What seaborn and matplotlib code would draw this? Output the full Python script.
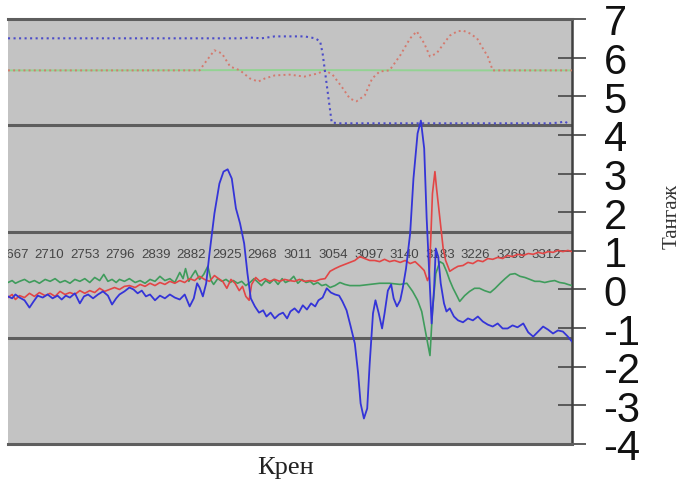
import matplotlib
matplotlib.use("Agg")
import matplotlib.pyplot as plt
import seaborn as sns
import pandas as pd

# ---------------- data ----------------
x_tick_values = [2667, 2710, 2753, 2796, 2839, 2882, 2925, 2968, 3011, 3054,
                 3097, 3140, 3183, 3226, 3269, 3312]
x_tick_labels = [str(v) for v in x_tick_values]
y_ticks = [-4, -3, -2, -1, 0, 1, 2, 3, 4, 5, 6, 7]
band_lines = [4.25, 1.5, -1.25]

blue_x = [2660, 2665, 2669, 2674, 2680, 2686, 2691, 2696, 2702, 2708, 2714, 2720, 2725, 2730,
          2735, 2741, 2747, 2752, 2757, 2763, 2769, 2775, 2781, 2786, 2791, 2795, 2801, 2807,
          2812, 2817, 2822, 2827, 2832, 2838, 2844, 2850, 2856, 2862, 2868, 2874, 2880, 2885,
          2889, 2892, 2896, 2900, 2904, 2910, 2916, 2921, 2926, 2931, 2936, 2941, 2946, 2950,
          2954, 2959, 2964, 2969, 2973, 2978, 2983, 2988, 2993, 2998, 3002, 3007, 3012, 3017,
          3022, 3027, 3032, 3036, 3041, 3046, 3051, 3056, 3061, 3065, 3070, 3075, 3080, 3084,
          3087, 3091, 3095, 3098, 3102, 3105, 3109, 3113, 3116, 3120, 3124, 3127, 3131, 3135,
          3138, 3142, 3147, 3151, 3156, 3160, 3164, 3167, 3171, 3173, 3176, 3178, 3181, 3184,
          3188, 3191, 3195, 3200, 3205, 3211, 3217, 3223, 3229, 3235, 3241, 3247, 3253, 3259,
          3265, 3271, 3277, 3284, 3290, 3296, 3302, 3308, 3314, 3320, 3326, 3332, 3338, 3343]
blue_y = [-0.18, -0.23, -0.13, -0.21, -0.28, -0.47, -0.31, -0.16, -0.21, -0.13, -0.23, -0.16, -0.26, -0.16,
          -0.21, -0.10, -0.36, -0.18, -0.13, -0.23, -0.13, -0.05, -0.16, -0.39, -0.23, -0.13, -0.05, 0.05,
          0.00, -0.10, -0.03, -0.18, -0.13, -0.28, -0.16, -0.23, -0.13, -0.21, -0.26, -0.13, -0.44, -0.23,
          0.16, 0.05, -0.18, 0.16, 0.93, 1.97, 2.74, 3.05, 3.11, 2.87, 2.10, 1.71, 1.19, 0.41,
          -0.23, -0.44, -0.60, -0.54, -0.70, -0.60, -0.75, -0.65, -0.60, -0.75, -0.57, -0.49, -0.60, -0.41,
          -0.52, -0.36, -0.44, -0.28, -0.21, 0.03, -0.08, -0.13, -0.16, -0.31, -0.54, -0.96, -1.40, -2.17,
          -2.95, -3.34, -3.08, -1.92, -0.62, -0.28, -0.62, -1.01, -0.62, -0.03, 0.13, -0.23, -0.44, -0.28,
          0.03, 0.54, 1.45, 2.87, 4.04, 4.37, 3.65, 1.84, 0.03, -0.88, 0.03, 1.06, 0.85, 0.16,
          -0.36, -0.57, -0.49, -0.70, -0.80, -0.85, -0.75, -0.80, -0.70, -0.83, -0.91, -0.96, -0.88, -1.01,
          -1.01, -0.93, -0.98, -0.88, -1.11, -1.22, -1.09, -0.96, -1.04, -1.14, -1.06, -1.09, -1.22, -1.35]

red_x = [2660, 2665, 2669, 2674, 2680, 2686, 2692, 2698, 2705, 2711, 2717, 2723, 2729, 2735,
         2741, 2747, 2753, 2759, 2765, 2771, 2777, 2783, 2789, 2795, 2801, 2807, 2814, 2820,
         2826, 2832, 2838, 2844, 2850, 2856, 2862, 2868, 2874, 2880, 2886, 2892, 2898, 2904,
         2910, 2915, 2920, 2925, 2930, 2935, 2940, 2944, 2948, 2952, 2955, 2960, 2965, 2971,
         2977, 2983, 2989, 2995, 3001, 3007, 3013, 3019, 3026, 3032, 3038, 3044, 3050, 3056,
         3062, 3068, 3074, 3080, 3086, 3092, 3098, 3104, 3110, 3116, 3122, 3128, 3135, 3141,
         3147, 3153, 3159, 3164, 3168, 3170, 3172, 3174, 3177, 3179, 3183, 3187, 3190, 3195,
         3200, 3205, 3211, 3217, 3223, 3229, 3235, 3241, 3247, 3253, 3259, 3265, 3271, 3277,
         3284, 3290, 3296, 3302, 3308, 3314, 3320, 3326, 3332, 3338, 3343]
red_y = [-0.21, -0.13, -0.26, -0.16, -0.21, -0.10, -0.18, -0.08, -0.16, -0.10, -0.18, -0.05, -0.13, -0.08,
         -0.13, -0.03, -0.10, -0.03, -0.08, 0.03, -0.05, 0.00, 0.05, 0.00, 0.08, 0.10, 0.05, 0.13,
         0.08, 0.16, 0.10, 0.18, 0.13, 0.21, 0.16, 0.23, 0.18, 0.28, 0.23, 0.34, 0.26, 0.21,
         0.36, 0.28, 0.21, 0.03, 0.26, 0.16, -0.03, 0.08, -0.18, -0.28, 0.13, 0.31, 0.21, 0.28,
         0.21, 0.26, 0.21, 0.26, 0.23, 0.21, 0.26, 0.21, 0.23, 0.21, 0.26, 0.28, 0.47, 0.54,
         0.60, 0.65, 0.70, 0.75, 0.85, 0.80, 0.75, 0.75, 0.72, 0.78, 0.72, 0.75, 0.70, 0.75,
         0.67, 0.72, 0.60, 0.49, 0.23, 0.34, 1.32, 2.48, 3.05, 2.61, 1.84, 1.06, 0.75, 0.47,
         0.54, 0.60, 0.62, 0.70, 0.67, 0.75, 0.72, 0.80, 0.78, 0.83, 0.80, 0.88, 0.85, 0.91,
         0.88, 0.93, 0.91, 0.96, 0.93, 0.98, 0.96, 1.01, 0.98, 1.01, 0.98]

green_x = [2660, 2665, 2669, 2674, 2680, 2686, 2692, 2698, 2705, 2711, 2717, 2723, 2729, 2735,
           2741, 2747, 2753, 2759, 2765, 2771, 2776, 2781, 2786, 2791, 2795, 2801, 2807, 2814,
           2820, 2826, 2832, 2838, 2844, 2850, 2856, 2862, 2868, 2872, 2875, 2879, 2883, 2887,
           2892, 2897, 2902, 2906, 2909, 2914, 2919, 2924, 2929, 2933, 2938, 2943, 2948, 2953,
           2958, 2963, 2967, 2972, 2977, 2982, 2987, 2992, 2996, 3001, 3006, 3011, 3016, 3021,
           3026, 3030, 3035, 3040, 3045, 3050, 3056, 3062, 3068, 3074, 3086, 3098, 3110, 3122,
           3135, 3143, 3150, 3156, 3161, 3166, 3171, 3174, 3178, 3183, 3187, 3191, 3195, 3199,
           3204, 3207, 3213, 3219, 3225, 3231, 3237, 3244, 3250, 3256, 3262, 3268, 3274, 3280,
           3286, 3292, 3298, 3304, 3310, 3316, 3322, 3328, 3334, 3338, 3343]
green_y = [0.18, 0.23, 0.16, 0.21, 0.26, 0.18, 0.23, 0.16, 0.26, 0.21, 0.28, 0.18, 0.23, 0.16,
           0.26, 0.21, 0.28, 0.18, 0.31, 0.23, 0.39, 0.21, 0.26, 0.18, 0.26, 0.21, 0.28, 0.18,
           0.23, 0.16, 0.26, 0.21, 0.34, 0.23, 0.28, 0.18, 0.44, 0.28, 0.54, 0.21, 0.36, 0.49,
           0.26, 0.39, 0.60, 0.23, 0.13, 0.28, 0.21, 0.26, 0.18, 0.23, 0.16, 0.21, 0.10, 0.18,
           0.28, 0.18, 0.10, 0.23, 0.16, 0.26, 0.13, 0.28, 0.18, 0.23, 0.34, 0.16, 0.26, 0.18,
           0.21, 0.13, 0.18, 0.10, 0.13, 0.05, 0.10, 0.18, 0.13, 0.10, 0.10, 0.13, 0.16, 0.16,
           0.13, 0.16, -0.05, -0.28, -0.57, -1.14, -1.71, -0.57, 0.41, 0.72, 0.67, 0.47, 0.23, 0.03,
           -0.18, -0.31, -0.16, -0.05, 0.03, 0.03, -0.03, -0.08, 0.03, 0.16, 0.28, 0.39, 0.41, 0.34,
           0.31, 0.26, 0.21, 0.21, 0.18, 0.21, 0.23, 0.18, 0.16, 0.13, 0.10]

top_blue_x = [2660, 2711, 2771, 2832, 2892, 2941, 2953, 2967, 2983, 3001, 3019, 3032, 3038,
              3041, 3045, 3049, 3052, 3062, 3135, 3195, 3256, 3316, 3328, 3334, 3340]
top_blue_y = [6.50, 6.50, 6.50, 6.50, 6.50, 6.50, 6.52, 6.50, 6.55, 6.55, 6.55, 6.50, 6.42,
              6.11, 5.46, 4.81, 4.32, 4.30, 4.30, 4.30, 4.30, 4.30, 4.32, 4.35, 4.27]

top_green_x = [2660, 2800, 3000, 3200, 3343]
top_green_y = [5.67, 5.67, 5.68, 5.67, 5.67]

top_red_x = [2660, 2892, 2898, 2910, 2919, 2929, 2941, 2953, 2963, 2971, 2983, 3001, 3019,
             3035, 3044, 3053, 3064, 3074, 3082, 3092, 3101, 3110, 3122, 3135, 3147, 3155,
             3164, 3171, 3179, 3188, 3195, 3204, 3211, 3219, 3228, 3235, 3241, 3247, 3343]
top_red_y = [5.67, 5.67, 5.85, 6.19, 6.11, 5.77, 5.67, 5.46, 5.38, 5.46, 5.54, 5.56, 5.51,
             5.59, 5.67, 5.56, 5.25, 4.94, 4.87, 5.02, 5.46, 5.64, 5.67, 6.06, 6.50, 6.68,
             6.37, 6.03, 6.11, 6.37, 6.57, 6.68, 6.70, 6.63, 6.50, 6.24, 6.03, 5.67, 5.67]

# ---------------- style ----------------
sns.set_style("white")
plt.rcParams["font.family"] = ["Liberation Sans", "DejaVu Sans"]
plt.rcParams["axes.unicode_minus"] = False

fig = plt.figure(figsize=(6.82, 4.85), dpi=100)
fig.patch.set_facecolor("white")
ax = fig.add_axes([8 / 682, 1 - 445 / 485, 564 / 682, 425 / 485])
ax.set_facecolor("#c3c3c3")

for yv in band_lines:
    ax.axhline(yv, color="#5e5e5e", lw=2.2, zorder=1)

for xv, lab in zip(x_tick_values, x_tick_labels):
    ax.text(xv, 0.93, lab, ha="center", va="center", fontsize=9.5,
            color="#454545", zorder=1.5, clip_on=True)

def draw(xs, ys, color, lw, ls="-", z=3):
    df = pd.DataFrame({"x": xs, "y": ys})
    sns.lineplot(data=df, x="x", y="y", ax=ax, color=color, lw=lw, linestyle=ls,
                 estimator=None, sort=False, zorder=z)

draw(top_green_x, top_green_y, "#93d293", 1.4, "-", 2.5)
draw(top_red_x, top_red_y, "#d47a6e", 1.4, ":", 2.6)
draw(top_blue_x, top_blue_y, "#4c4cc8", 1.5, ":", 2.7)
draw(green_x, green_y, "#3f9c5c", 1.2)
draw(red_x, red_y, "#e24646", 1.2)
draw(blue_x, blue_y, "#3434d8", 1.3)

ax.set_xlim(2660, 3343)
ax.set_ylim(-4, 7)
ax.set_xticks([])
ax.set_yticks(y_ticks)
ax.yaxis.tick_right()
ax.tick_params(axis="y", direction="inout", length=19.5, width=1.3, color="#505050",
               labelsize=30, pad=13, labelcolor="#111111")
ax.set_xlabel("")
ax.set_ylabel("")

ax.spines["left"].set_visible(False)
for s in ["top", "bottom"]:
    ax.spines[s].set_color("#5e5e5e")
    ax.spines[s].set_linewidth(2.2)
ax.spines["right"].set_color("#404040")
ax.spines["right"].set_linewidth(1.8)

fig.text(286 / 682, 1 - 468 / 485, "Крен", ha="center", va="center",
         fontsize=19, family=["Liberation Serif", "DejaVu Serif"], color="#222222")
fig.text(672 / 682, 1 - 217 / 485, "Тангаж", ha="center", va="center", rotation=90,
         fontsize=15, family=["Liberation Serif", "DejaVu Serif"], color="#333333")

fig.savefig("out.png", dpi=100, facecolor="white")
